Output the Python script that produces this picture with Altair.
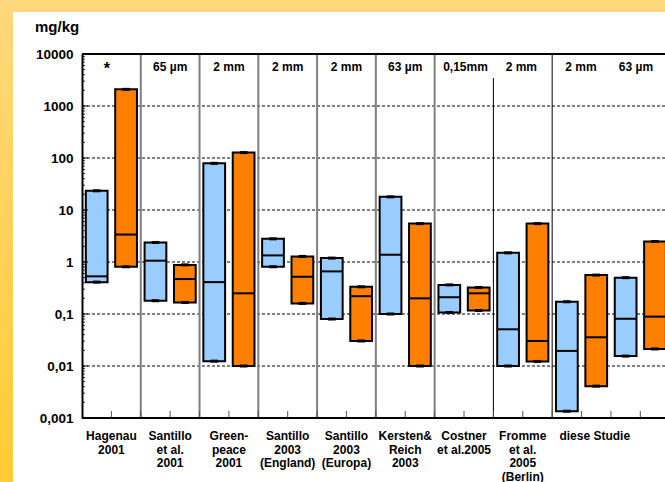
import altair as alt
import pandas as pd

# ---------------- data ----------------
group_labels = ["Hagenau\n2001", "Santillo\net al.\n2001", "Green-\npeace\n2001",
                "Santillo\n2003\n(England)", "Santillo\n2003\n(Europa)", "Kersten&\nReich\n2003",
                "Costner\net al.2005", "Fromme\net al.\n2005\n(Berlin)", "diese Studie"]
group_label_pos = [1, 3, 5, 7, 9, 11, 13, 15, 17.45]

star_label = ["*"]
star_pos = [0.85]
top_labels = ["65 µm", "2 mm", "2 mm", "2 mm", "63 µm", "0,15mm", "2 mm", "2 mm", "63 µm"]
top_label_pos = [3, 5, 7, 9, 11, 13.05, 14.95, 16.98, 18.85]

series = ["Probe A", "Probe B"] * 10
box_min = [0.41, 0.81, 0.18, 0.167, 0.0124, 0.01, 0.81, 0.16, 0.08, 0.0303,
           0.1, 0.01, 0.107, 0.117, 0.01, 0.01225, 0.00135, 0.0041, 0.0155, 0.0213]
box_median = [0.53, 3.37, 1.06, 0.47, 0.41, 0.25, 1.34, 0.52, 0.66, 0.22,
              1.38, 0.2, 0.21, 0.25, 0.0508, 0.0303, 0.0195, 0.0357, 0.081, 0.089]
box_max = [23.4, 2090, 2.37, 0.88, 79, 127, 2.79, 1.28, 1.19, 0.333,
           17.9, 5.47, 0.363, 0.323, 1.5, 5.47, 0.172, 0.56, 0.5, 2.48]

y_ticks = [10000, 1000, 100, 10, 1, 0.1, 0.01, 0.001]
grid_values = [1000, 100, 10, 1, 0.1, 0.01]
gray_separators = [2, 4, 6, 8, 10, 12]
black_separators_full = [16]
black_separators_short = [14]
bottom_ticks = list(range(1, 20))

# ---------------- layout ----------------
W, H = 583, 364
XMAX = 19.84
BLUE, ORANGE = "#99CCFF", "#FF8000"
FONT = "Liberation Sans"

n = len(box_min)
boxes = pd.DataFrame({
    "pos": [i + 0.5 for i in range(n)],
    "series": series,
    "lo": box_min, "med": box_median, "hi": box_max,
})
boxes["x1"] = boxes["pos"] - 0.37
boxes["x2"] = boxes["pos"] + 0.37
boxes["c1"] = boxes["pos"] - 0.13
boxes["c2"] = boxes["pos"] + 0.13

xs = alt.Scale(domain=[0, XMAX], nice=False, zero=False)
ys = alt.Scale(type="log", domain=[0.001, 10000], nice=False)
yaxis = alt.Axis(
    values=y_ticks, labelExpr="replace(toString(datum.value), '.', ',')",
    grid=False, ticks=False, title=None, domain=True, domainColor="black",
    domainWidth=2, labelFont=FONT, labelFontSize=13.5, labelFontWeight="bold",
    labelColor="black", labelPadding=9, zindex=1)

one = pd.DataFrame({"a": [0]})

# frame
top_strip = alt.Chart(one).mark_rect(fill="#FFD87D", clip=False).encode(
    x=alt.value(-82), x2=alt.value(W), y=alt.value(-54), y2=alt.value(-42))
left_strip = alt.Chart(one).mark_rect(
    clip=False,
    fill=alt.Gradient(gradient="linear",
                      stops=[alt.GradientStop(color="#FFD87D", offset=0),
                             alt.GradientStop(color="#FFCC33", offset=1)],
                      x1=0, x2=0, y1=0, y2=1)
).encode(x=alt.value(-82), x2=alt.value(-69), y=alt.value(-54), y2=alt.value(H + 64))

grid = alt.Chart(pd.DataFrame({"v": grid_values})).mark_rule(
    color="black", strokeWidth=1, strokeDash=[3, 2]).encode(
    y=alt.Y("v:Q", scale=ys, axis=yaxis), x=alt.value(0), x2=alt.value(W))

sep_gray = alt.Chart(pd.DataFrame({"p": gray_separators})).mark_rule(
    color="#7f7f7f", strokeWidth=2).encode(
    x=alt.X("p:Q", scale=xs, axis=None), y=alt.value(0), y2=alt.value(H))
sep_black = alt.Chart(pd.DataFrame({"p": black_separators_full})).mark_rule(
    color="black", strokeWidth=1).encode(
    x=alt.X("p:Q", scale=xs, axis=None), y=alt.value(0), y2=alt.value(H))
sep_black_short = alt.Chart(pd.DataFrame({"p": black_separators_short})).mark_rule(
    color="black", strokeWidth=1).encode(
    x=alt.X("p:Q", scale=xs, axis=None), y=alt.value(24), y2=alt.value(H))

minor_vals = [m * 10 ** e for e in range(-3, 4) for m in range(2, 10)]
minor = alt.Chart(pd.DataFrame({"v": minor_vals})).mark_rule(
    color="#333333", strokeWidth=1).encode(
    y=alt.Y("v:Q", scale=ys, axis=yaxis), x=alt.value(0), x2=alt.value(3))
major = alt.Chart(pd.DataFrame({"v": y_ticks})).mark_rule(
    color="black", strokeWidth=1).encode(
    y=alt.Y("v:Q", scale=ys, axis=yaxis), x=alt.value(0), x2=alt.value(6))

xticks = alt.Chart(pd.DataFrame({"p": bottom_ticks})).mark_rule(
    color="#555555", strokeWidth=1).encode(
    x=alt.X("p:Q", scale=xs, axis=None), y=alt.value(H - 7), y2=alt.value(H))

color = alt.Color("series:N", scale=alt.Scale(domain=["Probe A", "Probe B"],
                                              range=[BLUE, ORANGE]), legend=None)

bars = alt.Chart(boxes).mark_bar(stroke="black", strokeWidth=2, clip=True).encode(
    x=alt.X("x1:Q", scale=xs, axis=None), x2="x2:Q",
    y=alt.Y("lo:Q", scale=ys, axis=yaxis),
    y2="hi:Q",
    color=color,
)
medians = alt.Chart(boxes).mark_rule(color="black", strokeWidth=2, clip=True).encode(
    x=alt.X("x1:Q", scale=xs, axis=None), x2="x2:Q",
    y=alt.Y("med:Q", scale=ys, axis=yaxis))
cap_lo = alt.Chart(boxes).mark_rule(color="black", strokeWidth=3, clip=True).encode(
    x=alt.X("c1:Q", scale=xs, axis=None), x2="c2:Q",
    y=alt.Y("lo:Q", scale=ys, axis=yaxis))
cap_hi = alt.Chart(boxes).mark_rule(color="black", strokeWidth=3, clip=True).encode(
    x=alt.X("c1:Q", scale=xs, axis=None), x2="c2:Q",
    y=alt.Y("hi:Q", scale=ys, axis=yaxis))

top_line = alt.Chart(one).mark_rule(color="black", strokeWidth=2).encode(
    x=alt.value(0), x2=alt.value(W), y=alt.value(0))
bottom_line = alt.Chart(one).mark_rule(color="black", strokeWidth=2).encode(
    x=alt.value(0), x2=alt.value(W), y=alt.value(H))

top_text = alt.Chart(pd.DataFrame({"p": top_label_pos, "t": top_labels})).mark_text(
    font=FONT, fontSize=12, fontWeight="bold", color="black", baseline="middle",
    align="center").encode(
    x=alt.X("p:Q", scale=xs, axis=None), y=alt.value(12.5), text="t:N")

star_text = alt.Chart(pd.DataFrame({"p": star_pos, "t": star_label})).mark_text(
    font=FONT, fontSize=16, fontWeight="bold", color="black", baseline="middle",
    align="center").encode(
    x=alt.X("p:Q", scale=xs, axis=None), y=alt.value(14.5), text="t:N")

bottom_text = alt.Chart(pd.DataFrame({"p": group_label_pos, "t": group_labels})).mark_text(
    font=FONT, fontSize=12, fontWeight="bold", color="black", baseline="top",
    align="center", lineBreak="\n", lineHeight=13.5, clip=False).encode(
    x=alt.X("p:Q", scale=xs, axis=None), y=alt.value(H + 13), text="t:N")

unit = alt.Chart(one).mark_text(
    text="mg/kg", font=FONT, fontSize=15, fontWeight="bold", color="black",
    align="left", baseline="middle", clip=False).encode(
    x=alt.value(-47), y=alt.value(-27.5))

chart = alt.layer(
    top_strip, left_strip, grid, sep_gray, sep_black, sep_black_short,
    bars, medians, cap_lo, cap_hi, minor, major, xticks,
    top_line, bottom_line, top_text, star_text, bottom_text, unit
).resolve_scale(color="independent").properties(
    width=W, height=H,
    autosize=alt.AutoSizeParams(type="none"),
    padding={"left": 82, "top": 54, "right": 0, "bottom": 64},
    background="white",
).configure_view(stroke=None)

chart.save("out.html", embed_options={"renderer": "svg", "actions": False})
